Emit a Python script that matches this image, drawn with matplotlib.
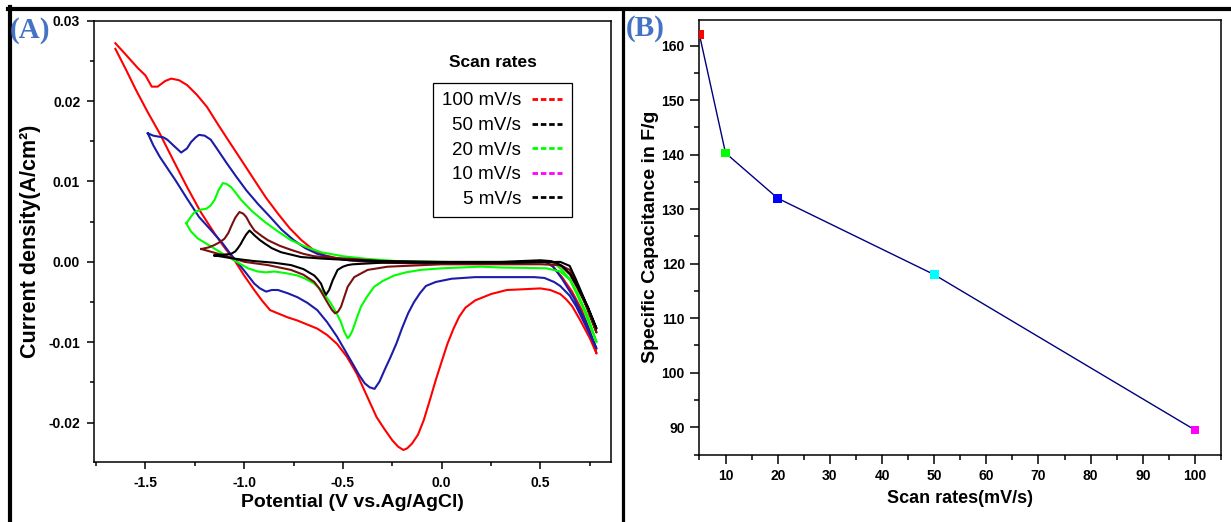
import numpy as np
import matplotlib
matplotlib.use("Agg")
import matplotlib.pyplot as plt
from matplotlib.lines import Line2D
from matplotlib.ticker import MultipleLocator, FormatStrFormatter

plt.rcParams["font.family"] = ["Liberation Sans", "DejaVu Sans"]
plt.rcParams["font.weight"] = "bold"
plt.rcParams["axes.unicode_minus"] = False

# ---- cyclic voltammograms, one loop per scan rate (V, A/cm2) ----
# 100 mV/s
e100_fwd = [-1.652, -1.60, -1.538, -1.50, -1.468, -1.438, -1.40, -1.369, -1.33, -1.289, -1.24,
            -1.189, -1.13, -1.069, -1.01, -0.949, -0.89, -0.829, -0.77, -0.71, -0.65, -0.59,
            -0.50, -0.43, -0.30, -0.10, 0.10, 0.30, 0.45, 0.52, 0.56, 0.609, 0.66, 0.709, 0.75, 0.784]
i100_fwd = [0.0272, 0.0258, 0.0241, 0.0232, 0.0218, 0.0218, 0.0225, 0.0228, 0.0226, 0.0220, 0.0208,
            0.0193, 0.0170, 0.0147, 0.0125, 0.0102, 0.0080, 0.0060, 0.0042, 0.0027, 0.0015, 0.0008,
            0.0003, 0.0001, -0.0001, -0.0002, -0.0002, -0.0001, 0.0, 0.0001, -0.0005, -0.0019,
            -0.0037, -0.0060, -0.0086, -0.0114]
e100_rev = [0.784, 0.75, 0.70, 0.66, 0.628, 0.60, 0.55, 0.499, 0.42, 0.33, 0.25, 0.169, 0.12,
            0.089, 0.06, 0.029, 0.0, -0.03, -0.06, -0.091, -0.12, -0.15, -0.175, -0.194, -0.22,
            -0.25, -0.29, -0.33, -0.38, -0.43, -0.48, -0.53, -0.58, -0.63, -0.68, -0.73, -0.78,
            -0.83, -0.869, -0.91, -0.949, -1.00, -1.049, -1.10, -1.149, -1.22, -1.289, -1.36,
            -1.428, -1.49, -1.548, -1.60, -1.652]
i100_rev = [-0.0114, -0.0095, -0.0072, -0.0055, -0.0046, -0.0040, -0.0035, -0.0033, -0.0034,
            -0.0035, -0.0040, -0.0048, -0.0057, -0.0068, -0.0083, -0.0102, -0.0124, -0.0147,
            -0.0172, -0.0197, -0.0215, -0.0226, -0.0232, -0.0234, -0.0230, -0.0222, -0.0208,
            -0.0193, -0.0166, -0.0139, -0.0118, -0.0102, -0.0091, -0.0083, -0.0078, -0.0073,
            -0.0069, -0.0064, -0.0060, -0.0048, -0.0035, -0.0017, 0.0002, 0.0018, 0.0035,
            0.0062, 0.0093, 0.0127, 0.0160, 0.0187, 0.0214, 0.0240, 0.0265]

# 50 mV/s
e50_fwd = [-1.488, -1.46, -1.438, -1.41, -1.389, -1.35, -1.319, -1.29, -1.269, -1.245, -1.229,
           -1.20, -1.169, -1.13, -1.089, -1.04, -0.989, -0.93, -0.869, -0.81, -0.749, -0.69,
           -0.63, -0.55, -0.47, -0.30, -0.10, 0.10, 0.30, 0.45, 0.52, 0.565, 0.609, 0.67, 0.727, 0.784]
i50_fwd = [0.0160, 0.0157, 0.0156, 0.0155, 0.0152, 0.0143, 0.0136, 0.0141, 0.0149, 0.0155, 0.0158,
           0.0157, 0.0152, 0.0138, 0.0123, 0.0106, 0.0089, 0.0072, 0.0056, 0.0040, 0.0027, 0.0017,
           0.0010, 0.0005, 0.0002, 0.0000, -0.0001, -0.0001, -0.0001, 0.0, 0.0001, -0.0006,
           -0.0021, -0.0045, -0.0073, -0.0108]
e50_rev = [0.784, 0.72, 0.68, 0.648, 0.60, 0.569, 0.52, 0.469, 0.30, 0.169, 0.05, -0.03, -0.08,
           -0.11, -0.14, -0.17, -0.20, -0.23, -0.26, -0.29, -0.315, -0.34, -0.365, -0.39, -0.42,
           -0.45, -0.49, -0.53, -0.58, -0.63, -0.68, -0.73, -0.78, -0.829, -0.86, -0.889, -0.92,
           -0.949, -0.99, -1.029, -1.07, -1.109, -1.17, -1.229, -1.29, -1.349, -1.39, -1.428,
           -1.46, -1.488]
i50_rev = [-0.0108, -0.0075, -0.0055, -0.0042, -0.0030, -0.0025, -0.0020, -0.0019, -0.0019,
           -0.0019, -0.0021, -0.0025, -0.0030, -0.0039, -0.0050, -0.0064, -0.0082, -0.0102,
           -0.0119, -0.0135, -0.0149, -0.0158, -0.0156, -0.0151, -0.0140, -0.0127, -0.0110,
           -0.0093, -0.0075, -0.0060, -0.0051, -0.0044, -0.0039, -0.0035, -0.0035, -0.0037,
           -0.0033, -0.0027, -0.0014, -0.0002, 0.0010, 0.0023, 0.0040, 0.0056, 0.0079, 0.0102,
           0.0117, 0.0131, 0.0145, 0.0160]

# 20 mV/s
e20_fwd = [-1.293, -1.27, -1.251, -1.22, -1.192, -1.17, -1.15, -1.13, -1.108, -1.09, -1.066,
           -1.04, -1.015, -0.96, -0.897, -0.83, -0.763, -0.69, -0.611, -0.50, -0.392, -0.23,
           0.0, 0.20, 0.40, 0.50, 0.55, 0.58, 0.609, 0.65, 0.688, 0.74, 0.784]
i20_fwd = [0.0048, 0.0056, 0.0062, 0.0065, 0.0066, 0.0070, 0.0077, 0.0089, 0.0098, 0.0097, 0.0093,
           0.0085, 0.0077, 0.0063, 0.0050, 0.0038, 0.0027, 0.0019, 0.0012, 0.0007, 0.0004, 0.0001,
           0.0000, -0.0001, -0.0001, 0.0, 0.0, -0.0004, -0.0010, -0.0022, -0.0039, -0.0068, -0.0100]
e20_rev = [0.784, 0.72, 0.68, 0.648, 0.60, 0.53, 0.30, 0.197, 0.0, -0.106, -0.18, -0.241, -0.30,
           -0.342, -0.38, -0.409, -0.43, -0.451, -0.465, -0.476, -0.493, -0.51, -0.53, -0.56,
           -0.60, -0.645, -0.69, -0.729, -0.79, -0.847, -0.89, -0.931, -0.981, -1.03, -1.066,
           -1.12, -1.167, -1.234, -1.27, -1.293]
i20_rev = [-0.0100, -0.0060, -0.0038, -0.0022, -0.0012, -0.0008, -0.0007, -0.0006, -0.0008,
           -0.0010, -0.0013, -0.0017, -0.0024, -0.0031, -0.0044, -0.0056, -0.0070, -0.0085,
           -0.0092, -0.0095, -0.0087, -0.0075, -0.0065, -0.0052, -0.0038, -0.0027, -0.0021,
           -0.0017, -0.0014, -0.0012, -0.0013, -0.0012, -0.0008, -0.0001, 0.0004, 0.0012,
           0.0019, 0.0029, 0.0038, 0.0048]

# 10 mV/s
e10_fwd = [-1.217, -1.18, -1.15, -1.12, -1.099, -1.08, -1.066, -1.045, -1.024, -1.005, -0.99,
           -0.97, -0.948, -0.91, -0.88, -0.82, -0.763, -0.70, -0.645, -0.55, -0.476, -0.30, 0.0,
           0.20, 0.40, 0.50, 0.55, 0.58, 0.609, 0.65, 0.688, 0.74, 0.784]
i10_fwd = [0.0016, 0.0018, 0.0021, 0.0025, 0.0029, 0.0036, 0.0044, 0.0055, 0.0062, 0.0060, 0.0056,
           0.0047, 0.0039, 0.0032, 0.0027, 0.0020, 0.0015, 0.0010, 0.0007, 0.0005, 0.0004, 0.0001,
           -0.0001, -0.0001, 0.0, 0.0001, 0.0001, -0.0002, -0.0006, -0.0016, -0.0033, -0.0058,
           -0.0088]
e10_rev = [0.784, 0.72, 0.68, 0.648, 0.60, 0.50, 0.30, 0.0, -0.274, -0.375, -0.443, -0.476,
           -0.495, -0.51, -0.525, -0.54, -0.555, -0.575, -0.594, -0.62, -0.645, -0.70, -0.763,
           -0.88, -0.998, -1.10, -1.16, -1.217]
i10_rev = [-0.0088, -0.0048, -0.0025, -0.0010, -0.0004, -0.0003, -0.0003, -0.0003, -0.0006,
           -0.0010, -0.0019, -0.0031, -0.0045, -0.0056, -0.0062, -0.0064, -0.0060, -0.0052,
           -0.0044, -0.0033, -0.0025, -0.0016, -0.0010, -0.0004, 0.0000, 0.0008, 0.0012, 0.0016]

# 5 mV/s
e5_fwd = [-1.15, -1.10, -1.066, -1.045, -1.032, -1.018, -1.007, -0.99, -0.973, -0.96, -0.948,
          -0.92, -0.897, -0.86, -0.813, -0.712, -0.60, -0.45, -0.30, 0.0, 0.30, 0.50, 0.55, 0.58,
          0.609, 0.65, 0.688, 0.74, 0.784]
i5_fwd = [0.0008, 0.0009, 0.0010, 0.0013, 0.0017, 0.0022, 0.0027, 0.0034, 0.0039, 0.0036, 0.0033,
          0.0027, 0.0023, 0.0017, 0.0012, 0.0006, 0.0004, 0.0002, 0.0001, 0.0000, 0.0, 0.0002,
          0.0001, -0.0001, -0.0005, -0.0015, -0.0031, -0.0056, -0.0083]
e5_rev = [0.784, 0.72, 0.68, 0.648, 0.60, 0.40, 0.0, -0.30, -0.45, -0.476, -0.50, -0.527, -0.552,
          -0.57, -0.586, -0.60, -0.611, -0.63, -0.645, -0.70, -0.763, -0.85, -0.95, -1.05, -1.10,
          -1.15]
i5_rev = [-0.0083, -0.0045, -0.0022, -0.0005, 0.0000, -0.0001, -0.0001, -0.0001, -0.0003, -0.0004,
          -0.0006, -0.0010, -0.0023, -0.0035, -0.0041, -0.0034, -0.0027, -0.0021, -0.0017,
          -0.0009, -0.0004, -0.0001, 0.0001, 0.0004, 0.0006, 0.0008]

cv_loops = [
    (e100_fwd, i100_fwd, e100_rev, i100_rev, "#ff0000"),
    (e50_fwd, i50_fwd, e50_rev, i50_rev, "#1c1ca8"),
    (e20_fwd, i20_fwd, e20_rev, i20_rev, "#00ff00"),
    (e10_fwd, i10_fwd, e10_rev, i10_rev, "#7a1010"),
    (e5_fwd, i5_fwd, e5_rev, i5_rev, "#000000"),
]

legend_labels = ["100 mV/s", "50 mV/s", "20 mV/s", "10 mV/s", "5 mV/s"]
legend_colors = ["#ff0000", "#000000", "#00ff00", "#ff00ff", "#000000"]

# ---- specific capacitance vs scan rate ----
scan_rates = [5, 10, 20, 50, 100]
capacitance = [162.0, 140.3, 132.0, 118.0, 89.5]
point_colors = ["#ff0000", "#00ff00", "#0000ff", "#00ffff", "#ff00ff"]

fig = plt.figure(figsize=(12.31, 5.22), dpi=100)
axA = fig.add_axes([0.0764, 0.1149, 0.4196, 0.8454])
axB = fig.add_axes([0.5682, 0.1293, 0.4237, 0.8324])

# panel A
for e_f, i_f, e_r, i_r, col in cv_loops:
    axA.plot(np.concatenate([e_f, e_r]), np.concatenate([i_f, i_r]), color=col, lw=1.5,
             solid_joinstyle="round")

axA.set_xlim(-1.76, 0.855)
axA.set_ylim(-0.0249, 0.03)
axA.xaxis.set_major_locator(MultipleLocator(0.5))
axA.xaxis.set_minor_locator(MultipleLocator(0.25))
axA.yaxis.set_major_locator(MultipleLocator(0.01))
axA.yaxis.set_minor_locator(MultipleLocator(0.005))
axA.xaxis.set_major_formatter(FormatStrFormatter("%.1f"))
axA.yaxis.set_major_formatter(FormatStrFormatter("%.2f"))
axA.tick_params(which="major", length=5, width=1.1, pad=5, labelsize=10)
axA.tick_params(which="minor", length=3, width=1.1)
axA.set_xlabel("Potential (V vs.Ag/AgCl)", fontsize=14, fontweight="bold")
axA.set_ylabel("Current density(A/cm²)", fontsize=15.5, fontweight="bold")
axA.xaxis.set_label_coords(0.5, -0.072)
axA.yaxis.set_label_coords(-0.103, 0.5)

handles = [Line2D([], [], color=c, lw=2, ls=(0, (2.0, 1.0))) for c in legend_colors]
leg = axA.legend(handles, legend_labels, loc="upper right", bbox_to_anchor=(0.925, 0.859),
                 borderaxespad=0, markerfirst=False, fancybox=False, framealpha=1,
                 edgecolor="black", handlelength=1.6, handletextpad=0.6, labelspacing=0.4,
                 borderpad=0.5, prop={"family": "Liberation Sans", "weight": "normal", "size": 13.5})
leg.get_frame().set_linewidth(0.9)
axA.text(0.7725, 0.906, "Scan rates", transform=axA.transAxes, ha="center", va="center",
         fontsize=12.5, fontweight="bold")

# panel B
axB.plot(scan_rates, capacitance, color="#000080", lw=1.0, zorder=2)
axB.scatter(scan_rates, capacitance, c=point_colors, marker="s", s=40, zorder=3, linewidths=0)
axB.set_xlim(5, 105)
axB.set_ylim(85, 164.7)
axB.xaxis.set_major_locator(MultipleLocator(10))
axB.xaxis.set_minor_locator(MultipleLocator(5))
axB.yaxis.set_major_locator(MultipleLocator(10))
axB.yaxis.set_minor_locator(MultipleLocator(5))
axB.tick_params(which="major", length=6.5, width=1.1, pad=4, labelsize=10)
axB.tick_params(which="minor", length=3.5, width=1.1)
axB.set_xlabel("Scan rates(mV/s)", fontsize=13, fontweight="bold")
axB.set_ylabel("Specific Capacitance in F/g", fontsize=14, fontweight="bold")
axB.xaxis.set_label_coords(0.5, -0.082)
axB.yaxis.set_label_coords(-0.077, 0.5)

for ax in (axA, axB):
    for sp in ax.spines.values():
        sp.set_linewidth(1.1)

# panel tags and the outer frame lines
tag_font = {"family": "Liberation Serif", "weight": "bold", "size": 21, "color": "#4472c4"}
fig.text(10 / 1231, 1 - 30 / 522, "(A)", ha="left", va="center", **tag_font)
fig.text(626 / 1231, 1 - 29 / 522, "(B)", ha="left", va="center", **tag_font)
fig.add_artist(Line2D([8 / 1231, 1], [1 - 9 / 522] * 2, color="black", lw=3))
fig.add_artist(Line2D([10 / 1231] * 2, [0, 1 - 7 / 522], color="black", lw=3))
fig.add_artist(Line2D([623 / 1231] * 2, [0, 1 - 9 / 522], color="black", lw=2.3))

fig.savefig("out.png", dpi=100)
